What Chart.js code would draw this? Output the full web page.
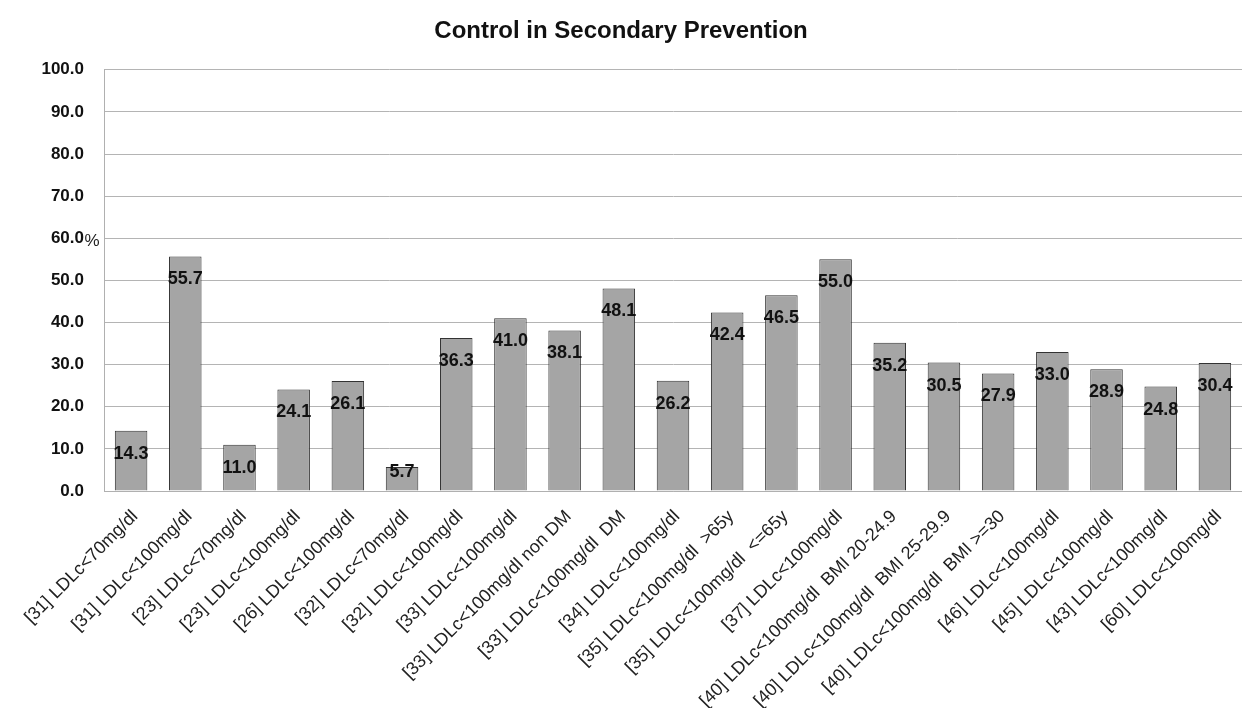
<!DOCTYPE html>
<html>
<head>
<meta charset="utf-8">
<script src="https://cdn.jsdelivr.net/npm/chart.js@4.4.0/dist/chart.umd.min.js"></script>
<style>
  html, body { margin: 0; padding: 0; background: #fff; }
  #wrap { width: 1242px; height: 708px; position: relative; }
</style>
</head>
<body>
<div id="wrap"><canvas id="myChart"></canvas></div>
<script>
const categories = [
    '[31] LDLc<70mg/dl',
    '[31] LDLc<100mg/dl',
    '[23] LDLc<70mg/dl',
    '[23] LDLc<100mg/dl',
    '[26] LDLc<100mg/dl',
    '[32] LDLc<70mg/dl',
    '[32] LDLc<100mg/dl',
    '[33] LDLc<100mg/dl',
    '[33] LDLc<100mg/dl non DM',
    '[33] LDLc<100mg/dl  DM',
    '[34] LDLc<100mg/dl',
    '[35] LDLc<100mg/dl  >65y',
    '[35] LDLc<100mg/dl  <=65y',
    '[37] LDLc<100mg/dl',
    '[40] LDLc<100mg/dl  BMI 20-24.9',
    '[40] LDLc<100mg/dl  BMI 25-29.9',
    '[40] LDLc<100mg/dl  BMI >=30',
    '[46] LDLc<100mg/dl',
    '[45] LDLc<100mg/dl',
    '[43] LDLc<100mg/dl',
    '[60] LDLc<100mg/dl'
];
const controlValues = [14.3, 55.7, 11.0, 24.1, 26.1, 5.7, 36.3, 41.0, 38.1, 48.1, 26.2,
    42.4, 46.5, 55.0, 35.2, 30.5, 27.9, 33.0, 28.9, 24.8, 30.4];
const yTicks = [0, 10, 20, 30, 40, 50, 60, 70, 80, 90, 100];

const fontName = '"Liberation Sans", Arial, sans-serif';

// value labels drawn just inside the top of each bar
const barLabels = {
    id: 'barLabels',
    afterDatasetsDraw(chart) {
        const ctx = chart.ctx;
        const meta = chart.getDatasetMeta(0);
        ctx.save();
        ctx.font = 'bold 18px ' + fontName;
        ctx.fillStyle = '#111';
        ctx.textAlign = 'center';
        ctx.textBaseline = 'middle';
        meta.data.forEach((bar, i) => {
            const y = Math.min(bar.y + 23, bar.base - 18);
            ctx.fillText(controlValues[i].toFixed(1), bar.x, y);
        });
        ctx.restore();
    }
};

// stray "%" unit mark next to the 60.0 tick
const unitMark = {
    id: 'unitMark',
    afterDraw(chart) {
        const ctx = chart.ctx;
        const y = chart.scales.y.getPixelForValue(60);
        ctx.save();
        ctx.font = '17px ' + fontName;
        ctx.fillStyle = '#222';
        ctx.textAlign = 'center';
        ctx.textBaseline = 'middle';
        ctx.fillText('%', 92, y + 3);
        ctx.restore();
    }
};

const ctx = document.getElementById('myChart').getContext('2d');
new Chart(ctx, {
    type: 'bar',
    data: {
        labels: categories,
        datasets: [{
            label: 'Control',
            data: controlValues,
            backgroundColor: '#a5a5a5',
            borderColor: '#333',
            borderWidth: 1,
            categoryPercentage: 1,
            barPercentage: 0.6
        }]
    },
    options: {
        responsive: true,
        maintainAspectRatio: false,
        animation: false,
        layout: { padding: { left: 0, right: 0, top: 0, bottom: 0 } },
        plugins: {
            legend: { display: false },
            tooltip: { enabled: false },
            title: {
                display: true,
                text: 'Control in Secondary Prevention',
                color: '#111',
                font: { family: fontName, size: 24, weight: 'bold' },
                padding: { top: 17, bottom: 24 }
            }
        },
        scales: {
            x: {
                grid: { display: false },
                border: { display: true, color: '#b0b0b0', width: 1 },
                ticks: {
                    color: '#222',
                    font: { family: fontName, size: 18 },
                    maxRotation: 45,
                    minRotation: 45,
                    autoSkip: false,
                    padding: 7,
                    labelOffset: 4
                },
                afterFit(scale) { scale.height = 217; }
            },
            y: {
                min: 0,
                max: 100,
                afterBuildTicks(scale) {
                    scale.ticks = yTicks.map(v => ({ value: v }));
                },
                grid: { color: '#b4b4b4', drawTicks: false },
                border: { display: true, color: '#b0b0b0', width: 1 },
                ticks: {
                    color: '#111',
                    font: { family: fontName, size: 17, weight: 'bold' },
                    padding: 20,
                    callback: v => v.toFixed(1)
                },
                afterFit(scale) { scale.width = 104; }
            }
        }
    },
    plugins: [barLabels, unitMark]
});
</script>
</body>
</html>
